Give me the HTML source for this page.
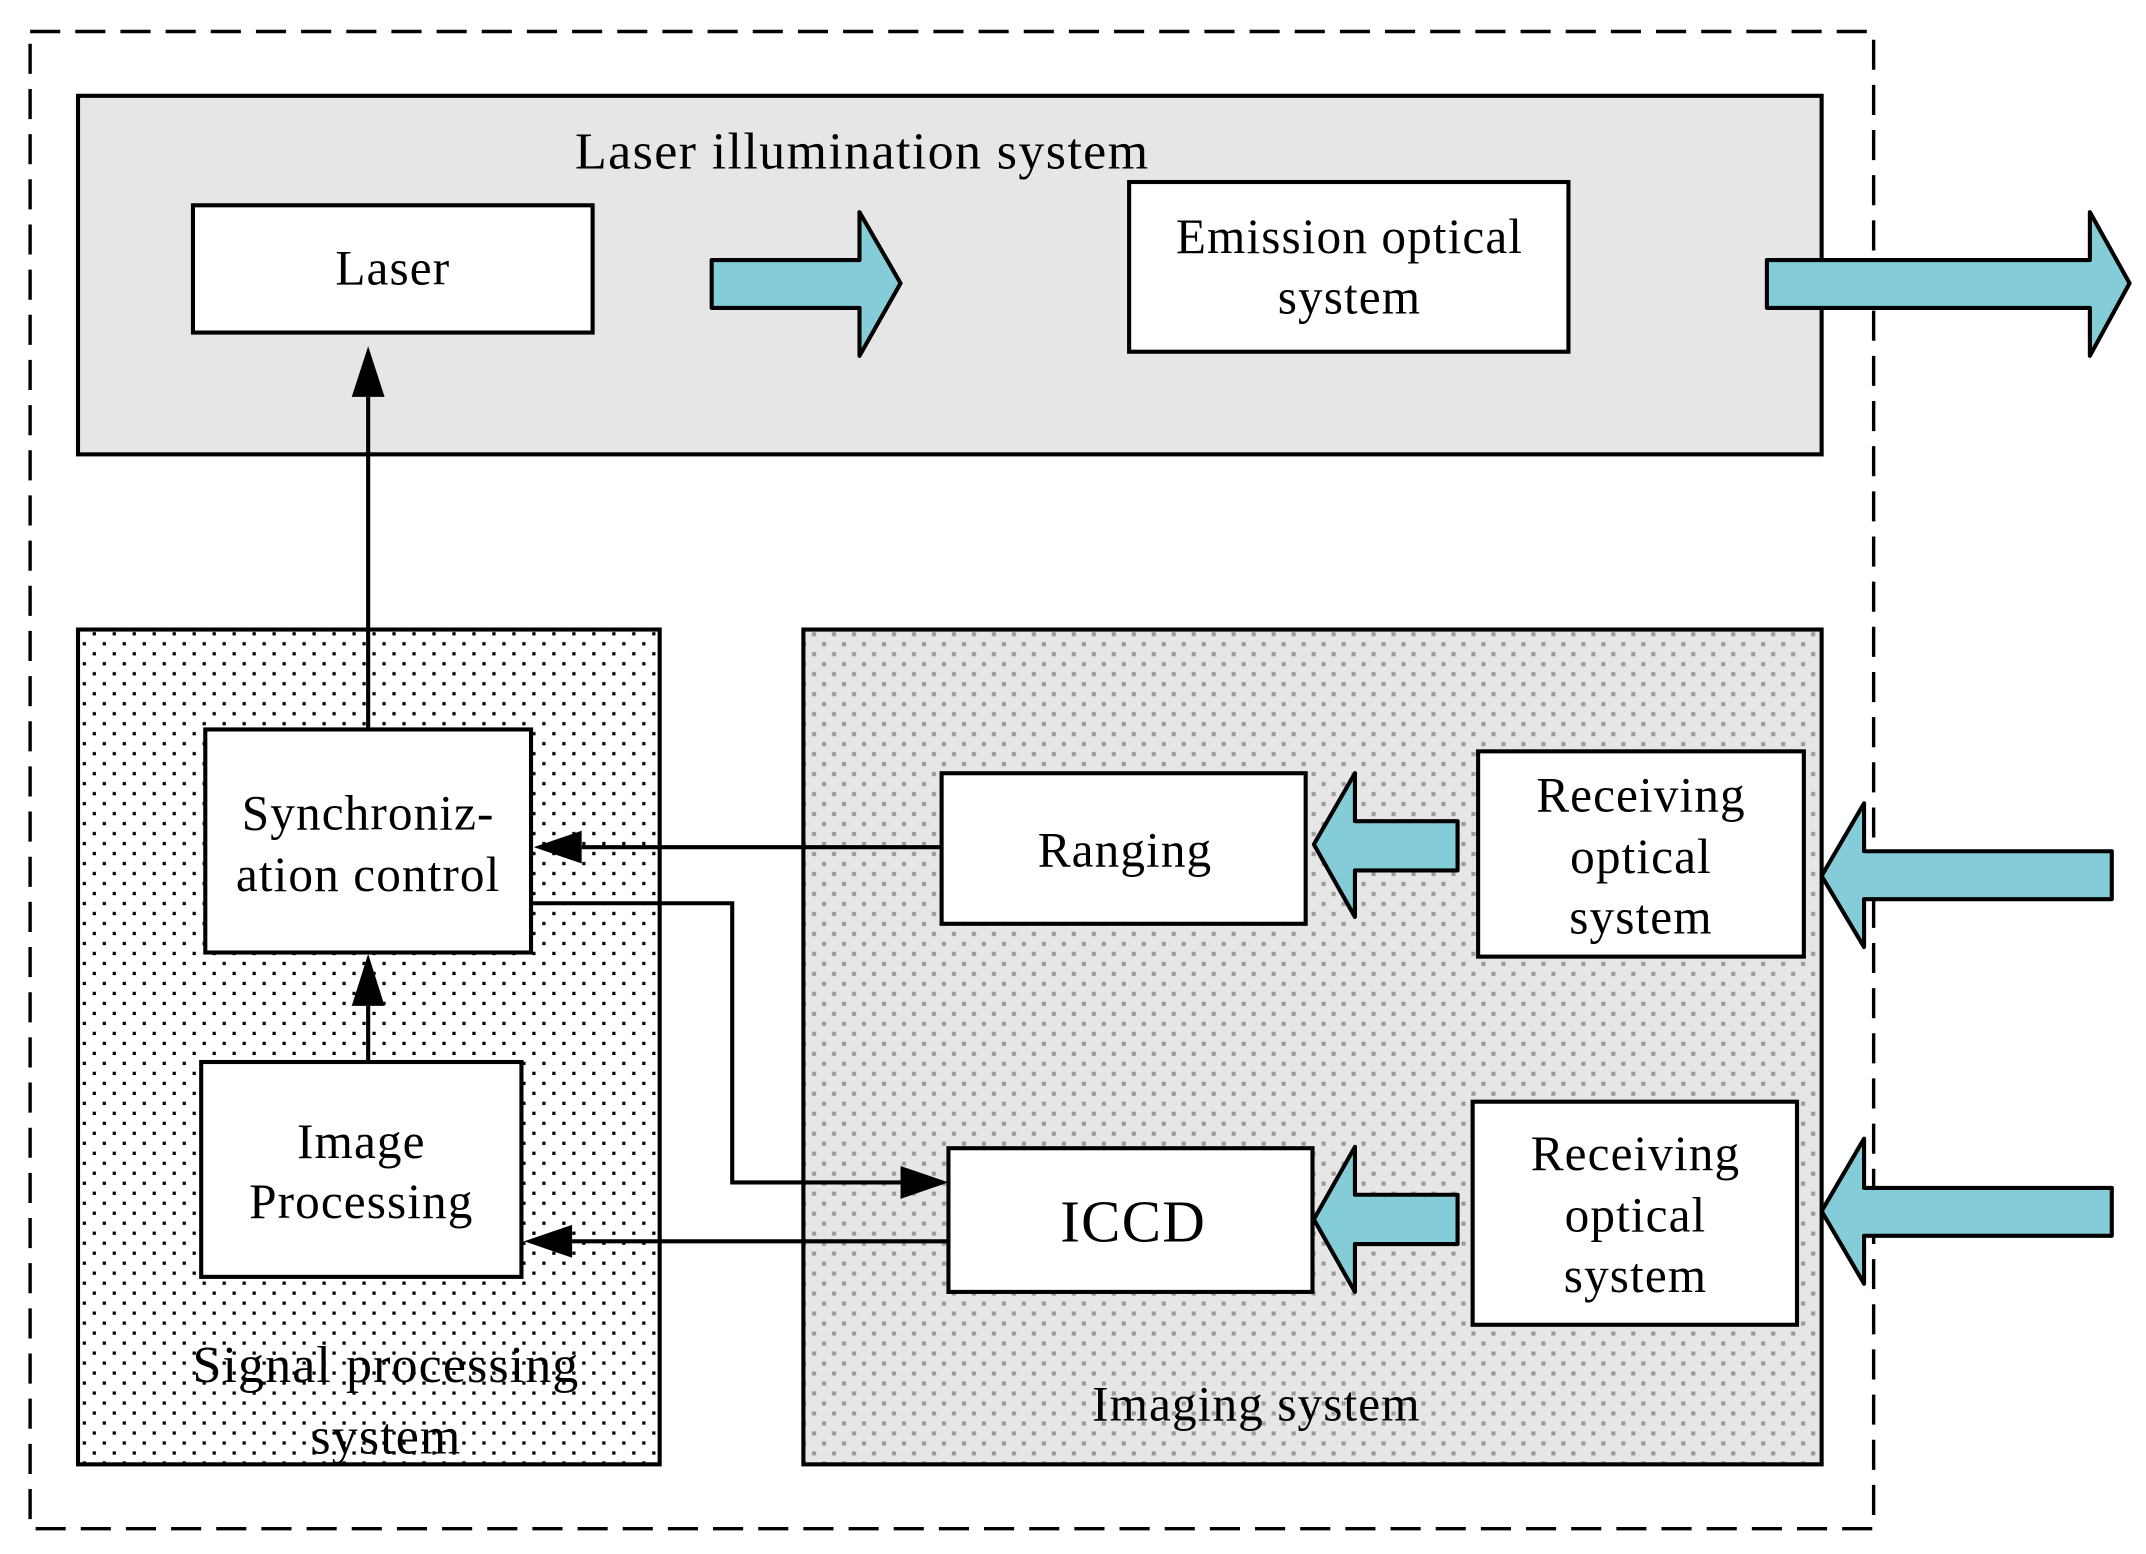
<!DOCTYPE html>
<html><head><style>html,body{margin:0;padding:0;background:#fff}svg{display:block}</style></head>
<body>
<svg width="2146" height="1554" viewBox="0 0 1568 1135.5" preserveAspectRatio="none" xmlns="http://www.w3.org/2000/svg" font-family="'Liberation Serif', serif">
<defs>
<pattern id="blk" x="0" y="0" width="14.6" height="14.6" patternUnits="userSpaceOnUse">
<rect width="14.6" height="14.6" fill="#fff"/>
<rect x="2" y="2" width="2.4" height="2.4" fill="#000"/>
<rect x="9.3" y="9.3" width="2.4" height="2.4" fill="#000"/>
</pattern>
<pattern id="gry" x="0" y="0" width="14.6" height="14.6" patternUnits="userSpaceOnUse">
<rect width="14.6" height="14.6" fill="#e6e6e6"/>
<rect x="2" y="2" width="3" height="3" fill="#999"/>
<rect x="9.3" y="9.3" width="3" height="3" fill="#999"/>
</pattern>
</defs>

<rect x="22" y="23" width="1347" height="1094" fill="none" stroke="#000" stroke-width="2.5" stroke-dasharray="22,11"/>

<rect x="57" y="70" width="1274" height="262" fill="#e6e6e6" stroke="#000" stroke-width="3"/>
<text x="630" y="123" font-size="38" letter-spacing="1" text-anchor="middle">Laser illumination system</text>
<rect x="141" y="150" width="292" height="93" fill="#fff" stroke="#000" stroke-width="3"/>
<text x="287" y="208" font-size="36" letter-spacing="0.8" text-anchor="middle">Laser</text>
<rect x="825" y="133" width="321" height="124" fill="#fff" stroke="#000" stroke-width="3"/>
<text x="986" y="185" font-size="36" letter-spacing="0.8" text-anchor="middle">Emission optical</text>
<text x="986" y="229" font-size="36" letter-spacing="0.8" text-anchor="middle">system</text>

<g fill="#84cdd8" stroke="#000" stroke-width="3" stroke-linejoin="round">
<path d="M520,190 H628 V155 L658,207 L628,260 V225 H520 Z"/>
<path d="M1291,190 H1527 V155 L1556,207 L1527,260 V225 H1291 Z"/>
</g>

<rect x="57" y="460" width="425" height="610" fill="url(#blk)" stroke="#000" stroke-width="3"/>
<rect x="587" y="460" width="744" height="610" fill="url(#gry)" stroke="#000" stroke-width="3"/>

<g fill="#84cdd8" stroke="#000" stroke-width="3" stroke-linejoin="round">
<path d="M1065,600 H990 V565 L960,617 L990,670 V636 H1065 Z"/>
<path d="M1065,873 H990 V838 L960,891 L990,944 V909 H1065 Z"/>
<path d="M1543,622 H1362 V587 L1331,640 L1362,692 V657 H1543 Z"/>
<path d="M1543,868 H1362 V832 L1331,885 L1362,938 V903 H1543 Z"/>
</g>

<rect x="150" y="533" width="238" height="163" fill="#fff" stroke="#000" stroke-width="3"/>
<text x="269" y="606" font-size="36" letter-spacing="0.8" text-anchor="middle">Synchroniz-</text>
<text x="269" y="651" font-size="36" letter-spacing="0.8" text-anchor="middle">ation control</text>
<rect x="147" y="776" width="234" height="157" fill="#fff" stroke="#000" stroke-width="3"/>
<text x="264" y="846" font-size="36" letter-spacing="0.8" text-anchor="middle">Image</text>
<text x="264" y="890" font-size="36" letter-spacing="0.8" text-anchor="middle">Processing</text>

<rect x="688" y="565" width="266" height="110" fill="#fff" stroke="#000" stroke-width="3"/>
<text x="822" y="633" font-size="36" letter-spacing="0.8" text-anchor="middle">Ranging</text>
<rect x="1080" y="549" width="238" height="150" fill="#fff" stroke="#000" stroke-width="3"/>
<text x="1199" y="593" font-size="36" letter-spacing="0.8" text-anchor="middle">Receiving</text>
<text x="1199" y="638" font-size="36" letter-spacing="0.8" text-anchor="middle">optical</text>
<text x="1199" y="682" font-size="36" letter-spacing="0.8" text-anchor="middle">system</text>
<rect x="693" y="839" width="266" height="105" fill="#fff" stroke="#000" stroke-width="3"/>
<text x="828" y="907" font-size="43" letter-spacing="1" text-anchor="middle">ICCD</text>
<rect x="1076" y="805" width="237" height="163" fill="#fff" stroke="#000" stroke-width="3"/>
<text x="1195" y="855" font-size="36" letter-spacing="0.8" text-anchor="middle">Receiving</text>
<text x="1195" y="900" font-size="36" letter-spacing="0.8" text-anchor="middle">optical</text>
<text x="1195" y="944" font-size="36" letter-spacing="0.8" text-anchor="middle">system</text>

<g stroke="#000" stroke-width="3" fill="none">
<line x1="269" y1="533" x2="269" y2="290"/>
<line x1="269" y1="776" x2="269" y2="735"/>
<line x1="688" y1="619" x2="425" y2="619"/>
<polyline points="388,660 535,660 535,864 658,864"/>
<line x1="693" y1="907" x2="418" y2="907"/>
</g>
<g fill="#000">
<path d="M269,253 L257,290 L281,290 Z"/>
<path d="M269,697 L257,735 L281,735 Z"/>
<path d="M390,619 L425,607 L425,631 Z"/>
<path d="M693,864 L658,852 L658,876 Z"/>
<path d="M383,907 L418,895 L418,919 Z"/>
</g>

<text x="282" y="1010" font-size="38" letter-spacing="0.8" text-anchor="middle">Signal processing</text>
<text x="282" y="1062" font-size="38" letter-spacing="0.8" text-anchor="middle">system</text>
<text x="918" y="1038" font-size="36" letter-spacing="0.8" text-anchor="middle">Imaging system</text>
</svg>
</body></html>
